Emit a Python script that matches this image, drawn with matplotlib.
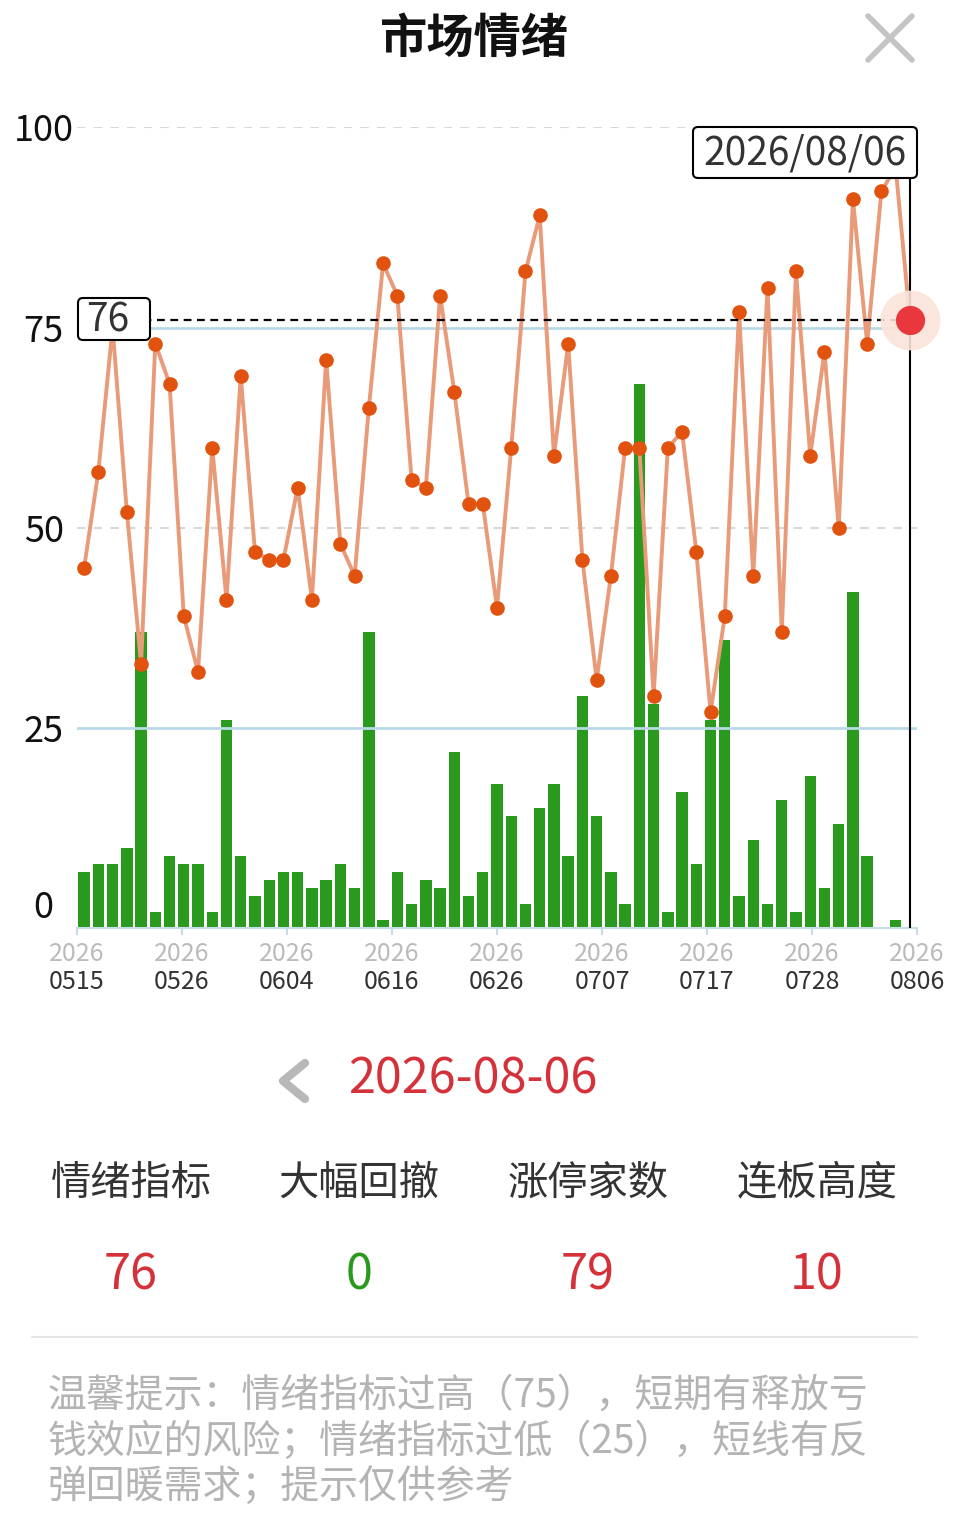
import numpy as np
import matplotlib
matplotlib.use("Agg")
import matplotlib.pyplot as plt
from matplotlib.lines import Line2D
from matplotlib.patches import FancyBboxPatch
from matplotlib.transforms import ScaledTranslation

plt.rcParams['font.family'] = ['Noto Sans CJK SC', 'DejaVu Sans']

# sentiment index (line) and 大幅回撤 count (bars), one per trading day 0515 -> 0806
sentiment = [45, 57, 75, 52, 33, 73, 68, 39, 32, 60,
             41, 69, 47, 46, 46, 55, 41, 71, 48, 44,
             65, 83, 79, 56, 55, 79, 67, 53, 53, 40,
             60, 82, 89, 59, 73, 46, 31, 44, 60, 60,
             29, 60, 62, 47, 27, 39, 77, 44, 80, 37,
             82, 59, 72, 50, 91, 73, 92, 95, 76]
drawdown = [7, 8, 8, 10, 37, 2, 9, 8, 8, 2,
            26, 9, 4, 6, 7, 7, 5, 6, 8, 5,
            37, 1, 7, 3, 6, 5, 22, 4, 7, 18,
            14, 3, 15, 18, 9, 29, 14, 7, 3, 68,
            28, 2, 17, 8, 26, 36, 4, 11, 3, 16,
            2, 19, 5, 13, 42, 9, 0, 1, 0]
tick_year = ['2026'] * 9
tick_mmdd = ['0515', '0526', '0604', '0616', '0626', '0707', '0717', '0728', '0806']
y_ticks = [0, 25, 50, 75, 100]
high_line, low_line = 75, 25

sel_date = '2026/08/06'
sel_date_dash = '2026-08-06'
stat_names = ['情绪指标', '大幅回撤', '涨停家数', '连板高度']
stat_values = [76, 0, 79, 10]
stat_colors = ['#d4313a', '#2a9a1e', '#d4313a', '#d4313a']
tip_lines = ['温馨提示：情绪指标过高（75），短期有释放亏',
             '钱效应的风险；情绪指标过低（25），短线有反',
             '弹回暖需求；提示仅供参考']

W, H = 957, 1537
fig = plt.figure(figsize=(W / 100, H / 100), dpi=100)


def fx(px):
    return px / W


def fy(py):
    return 1 - py / H


# --- header ---
fig.text(fx(474), fy(39), '市场情绪', fontsize=34, fontweight='bold',
         ha='center', va='center', color='#111111')
for (x0, y0, x1, y1) in [(868, 16, 912, 60), (912, 16, 868, 60)]:
    fig.add_artist(Line2D([fx(x0), fx(x1)], [fy(y0), fy(y1)], color='#c4c4c4',
                          lw=4, solid_capstyle='round'))

# --- chart ---
ax_bottom, ax_top = 928.3, 127.3
ax = fig.add_axes([fx(77), fy(ax_bottom), fx(917) - fx(77), fy(ax_top) - fy(ax_bottom)])
idx = np.arange(len(sentiment))
ax.set_xlim(-0.5, len(sentiment) - 0.5)
ax.set_ylim(0, 100)


def ay(py):
    return (ax_bottom - py) / (ax_bottom - ax_top)


ax.bar(idx, drawdown, width=0.8, color='#2a9a1e', zorder=2)

for v in [100, 50]:
    ax.axhline(v, color='#d8d8d8', lw=1.5, ls=(0, (4, 4)), zorder=1)
ax.axhline(high_line, color='#b9d9e6', lw=2, zorder=3)
ax.axhline(low_line, color='#b9d9e6', lw=2, zorder=3)

ax.plot(idx, sentiment, color='#e99a78', lw=2.8, zorder=4)
ax.plot(idx, sentiment, 'o', ms=9.5, color='#e2520f', zorder=5)

last = idx[-1]
ax.plot([-0.5, last], [sentiment[-1]] * 2, color='black', lw=1.6,
        ls=(0, (3.5, 2.5)), zorder=6)
ax.axvline(last, ymin=0, ymax=ay(178), color='black', lw=1.5, zorder=6)
ax.plot(last, sentiment[-1], 'o', ms=42, color='#fbe4da', alpha=0.9,
        zorder=7, clip_on=False)
ax.plot(last, sentiment[-1], 'o', ms=20, color='#e8383d', zorder=8,
        clip_on=False)

# value label at the left edge
x0b, x1b = (78 - 77) / 840, (150 - 77) / 840
ax.add_patch(FancyBboxPatch((x0b, ay(340)), x1b - x0b, ay(298) - ay(340),
                            boxstyle='round,pad=0,rounding_size=0.006',
                            transform=ax.transAxes, fc='white', ec='black',
                            lw=1.5, zorder=9, clip_on=False))
ax.text((108 - 77) / 840, ay(320), str(sentiment[-1]), transform=ax.transAxes,
        fontsize=28, color='#333333', ha='center', va='center', zorder=10)

# date label at the top
x0d, x1d = (693 - 77) / 840, (917 - 77) / 840
ax.add_patch(FancyBboxPatch((x0d, ay(178)), x1d - x0d, ay(127) - ay(178),
                            boxstyle='round,pad=0,rounding_size=0.006',
                            transform=ax.transAxes, fc='white', ec='black',
                            lw=1.5, zorder=9, clip_on=False))
ax.text((805 - 77) / 840, ay(153), sel_date, transform=ax.transAxes,
        fontsize=28, color='#333333', ha='center', va='center', zorder=10,
        clip_on=False)

for s in ['left', 'top', 'right']:
    ax.spines[s].set_visible(False)
ax.spines['bottom'].set_color('#c6dde8')
ax.spines['bottom'].set_linewidth(1.5)
ax.spines['bottom'].set_zorder(3)

ax.set_yticks(y_ticks, labels=[str(v) for v in y_ticks])
ax.tick_params(axis='y', length=0, pad=24, labelsize=26, labelcolor='#111111')
for lab in ax.get_yticklabels():
    lab.set_horizontalalignment('center')
ax.get_yticklabels()[0].set_transform(
    ax.get_yticklabels()[0].get_transform()
    + ScaledTranslation(0, 24 / 100, fig.dpi_scale_trans))

xt = np.linspace(-0.5, len(sentiment) - 0.5, len(tick_mmdd))
ax.xaxis.remove_overlapping_locs = False
ax.set_xticks(xt, labels=tick_year)
ax.set_xticks(xt, labels=tick_mmdd, minor=True)
ax.tick_params(axis='x', which='major', length=5, width=1.5, color='#c6dde8',
               labelsize=18, labelcolor='#bbbbbb', pad=4)
ax.tick_params(axis='x', which='minor', length=0, labelsize=18,
               labelcolor='#333333', pad=29)

# --- summary panel ---
fig.add_artist(Line2D([fx(305), fx(283), fx(305)], [fy(1063), fy(1081), fy(1099)],
                      color='#b8b8b8', lw=6, solid_capstyle='round',
                      solid_joinstyle='round'))
fig.text(fx(473), fy(1080), sel_date_dash, fontsize=35, color='#d4313a',
         ha='center', va='center')

cols = [131, 359, 588, 817]
for cx, name, val, col in zip(cols, stat_names, stat_values, stat_colors):
    fig.text(fx(cx), fy(1183), name, fontsize=29, color='#333333',
             ha='center', va='center')
    fig.text(fx(cx), fy(1276), str(val), fontsize=35, color=col,
             ha='center', va='center')

fig.add_artist(Line2D([fx(32), fx(917)], [fy(1337), fy(1337)],
                      color='#e6e6e6', lw=1.5))
for i, line in enumerate(tip_lines):
    fig.text(fx(48), fy(1396 + 46 * i), line, fontsize=28, color='#b4b4b4',
             ha='left', va='center')

fig.savefig('out.png', dpi=100)
